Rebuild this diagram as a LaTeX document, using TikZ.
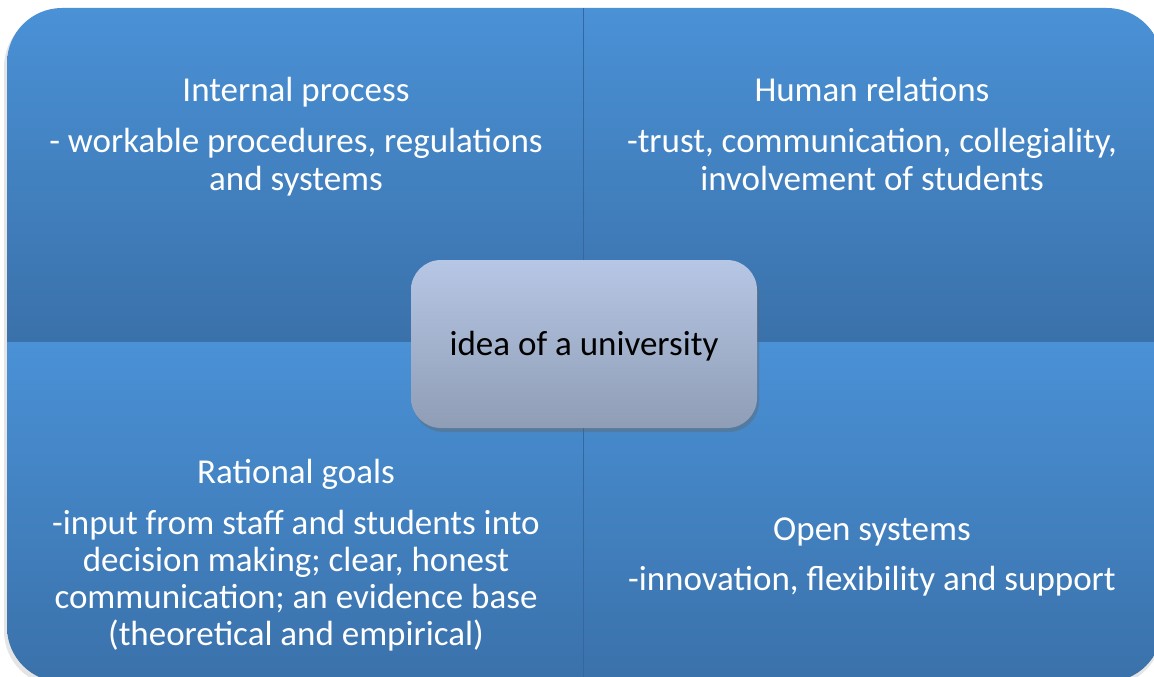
\documentclass[tikz,border=0pt]{standalone}
\usepackage{fontspec}
\setmainfont{Carlito}
\usetikzlibrary{shadows}
\definecolor{quadtop}{HTML}{4A91D6}
\definecolor{quadbot}{HTML}{3A71AA}
\definecolor{divline}{HTML}{3567A0}
\definecolor{hubtop}{HTML}{B6C7E5}
\definecolor{hubbot}{HTML}{8F9DB5}
\tikzset{
  quad/.style={top color=quadtop, bottom color=quadbot, draw=none},
  heading/.style={text=white, font=\fontsize{35}{38}\selectfont, anchor=base, inner sep=0pt},
  body/.style={text=white, font=\fontsize{35}{38}\selectfont, align=center, anchor=base, inner sep=0pt},
  hub/.style={rounded corners=30pt, top color=hubtop, bottom color=hubbot, draw=none,
    drop shadow={shadow xshift=2pt, shadow yshift=-4pt, opacity=0.4, fill=black!60}}
}
\begin{document}
\begin{tikzpicture}[x=1pt,y=-1pt]
\useasboundingbox (0,0) rectangle (1154,677);
% soft shadow under the whole panel
\fill[black, opacity=0.10, rounded corners=55pt] (4,12) rectangle (1162,686);
% four quadrants, clipped to the rounded panel
\begin{scope}
  \clip[rounded corners=55pt] (7,8) rectangle (1162,682);
  \path[quad] (7,8) rectangle (583,342);
  \path[quad] (583,8) rectangle (1162,342);
  \path[quad] (7,342) rectangle (583,682);
  \path[quad] (583,342) rectangle (1162,682);
  \draw[divline, line width=1pt] (583,8) -- (583,682);
\end{scope}
% quadrant texts (a multi-line node sits on the baseline of its last line)
\node[heading] (ipT) at (296,102) {Internal process};
\node[body] (ipB) at (296,190) {- workable procedures, regulations\\and systems};
\node[heading] (hrT) at (872,102) {Human relations};
\node[body] (hrB) at (872,190) {-trust, communication, collegiality,\\involvement of students};
\node[heading] (rgT) at (296,483) {Rational goals};
\node[body, font=\fontsize{35}{37}\selectfont] (rgB) at (296,645) {-input from staff and students into\\decision making; clear, honest\\communication; an evidence base\\(theoretical and empirical)};
\node[heading] (osT) at (872,540) {Open systems};
\node[body] (osB) at (872,590) {-innovation, flexibility and support};
% central box
\path[hub] (411,260) rectangle (757,428);
\node[font=\fontsize{35}{38}\selectfont, anchor=base, inner sep=0pt] (hub) at (584,355) {idea of a university};
\end{tikzpicture}
\end{document}
